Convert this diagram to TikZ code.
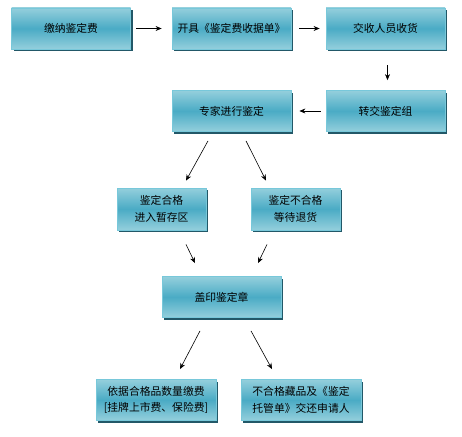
\documentclass[tikz,border=0pt]{standalone}
\usepackage{fontspec}
\setmainfont{Noto Sans CJK SC}
\usepackage{xcolor}
\definecolor{boxtop}{RGB}{148,207,220}
\definecolor{boxmid}{RGB}{74,171,197}
\definecolor{boxline}{RGB}{120,200,218}
\definecolor{boxshadow}{RGB}{34,88,104}
\usetikzlibrary{arrows.meta,shadows,calc}
\tikzset{
  stepbox/.style={draw=boxline, line width=0.8pt, top color=boxtop, bottom color=boxtop,
                  middle color=boxmid, font=\fontsize{10.8}{16.5}\selectfont, align=center,
                  minimum width=#1, minimum height=41pt, inner sep=0pt,
                  drop shadow={shadow xshift=2pt, shadow yshift=-2pt, fill=boxshadow, opacity=1}},
  stepbox/.default=119pt,
  flow/.style={-{Stealth[length=6pt,width=5pt]}, line width=0.6pt, black},
}
\begin{document}
\begin{tikzpicture}[x=1pt, y=-1pt]
\useasboundingbox (0,0) rectangle (462,436);

% --- first row ---
\node[stepbox] (pay) at (71,28.5) {缴纳鉴定费};
\node[stepbox] (receipt) at (231.5,28.5) {开具《鉴定费收据单》};
\node[stepbox] (accept) at (385.5,28.5) {交收人员收货};

% --- second row ---
\node[stepbox] (hand) at (385.5,111) {转交鉴定组};
\node[stepbox] (expert) at (231.5,111) {专家进行鉴定};

% --- results ---
\node[stepbox=89pt, minimum height=42pt] (pass) at (161.5,209) {鉴定合格\\进入暂存区};
\node[stepbox=89pt, minimum height=42pt] (fail) at (295.5,209) {鉴定不合格\\等待退货};

\node[stepbox] (stamp) at (221.5,297) {盖印鉴定章};

\node[stepbox=120pt] (fee) at (156,400) {依据合格品数量缴费\\{[挂牌上市费、保险费]}};
\node[stepbox=120pt] (back) at (301,400) {不合格藏品及《鉴定\\托管单》交还申请人};

% --- connectors ---
\draw[flow, shorten <=5.5pt, shorten >=10pt] (pay.east) -- (receipt.west);
\draw[flow, shorten <=8pt, shorten >=6pt] (receipt.east) -- (accept.west);
\draw[flow, shorten <=16pt, shorten >=10pt] ([xshift=2pt]accept.south) -- ([xshift=2pt]hand.north);
\draw[flow, shorten <=5pt, shorten >=8pt] (hand.west) -- (expert.east);

\draw[flow] ([xshift=-23.5pt,yshift=-9pt]expert.south) -- ([xshift=24.5pt,yshift=7pt]pass.north);
\draw[flow] ([xshift=14.5pt,yshift=-9pt]expert.south) -- ([xshift=-29.5pt,yshift=7pt]fail.north);

\draw[flow] ([xshift=24.5pt,yshift=-14pt]pass.south) -- ([xshift=-26.5pt,yshift=13pt]stamp.north);
\draw[flow] ([xshift=-28.5pt,yshift=-14pt]fail.south) -- ([xshift=36.5pt,yshift=13pt]stamp.north);

\draw[flow] ([xshift=-21.5pt,yshift=-13pt]stamp.south) -- ([xshift=24pt,yshift=10pt]fee.north);
\draw[flow] ([xshift=29.5pt,yshift=-13pt]stamp.south) -- ([xshift=-29pt,yshift=10pt]back.north);

\end{tikzpicture}
\end{document}
